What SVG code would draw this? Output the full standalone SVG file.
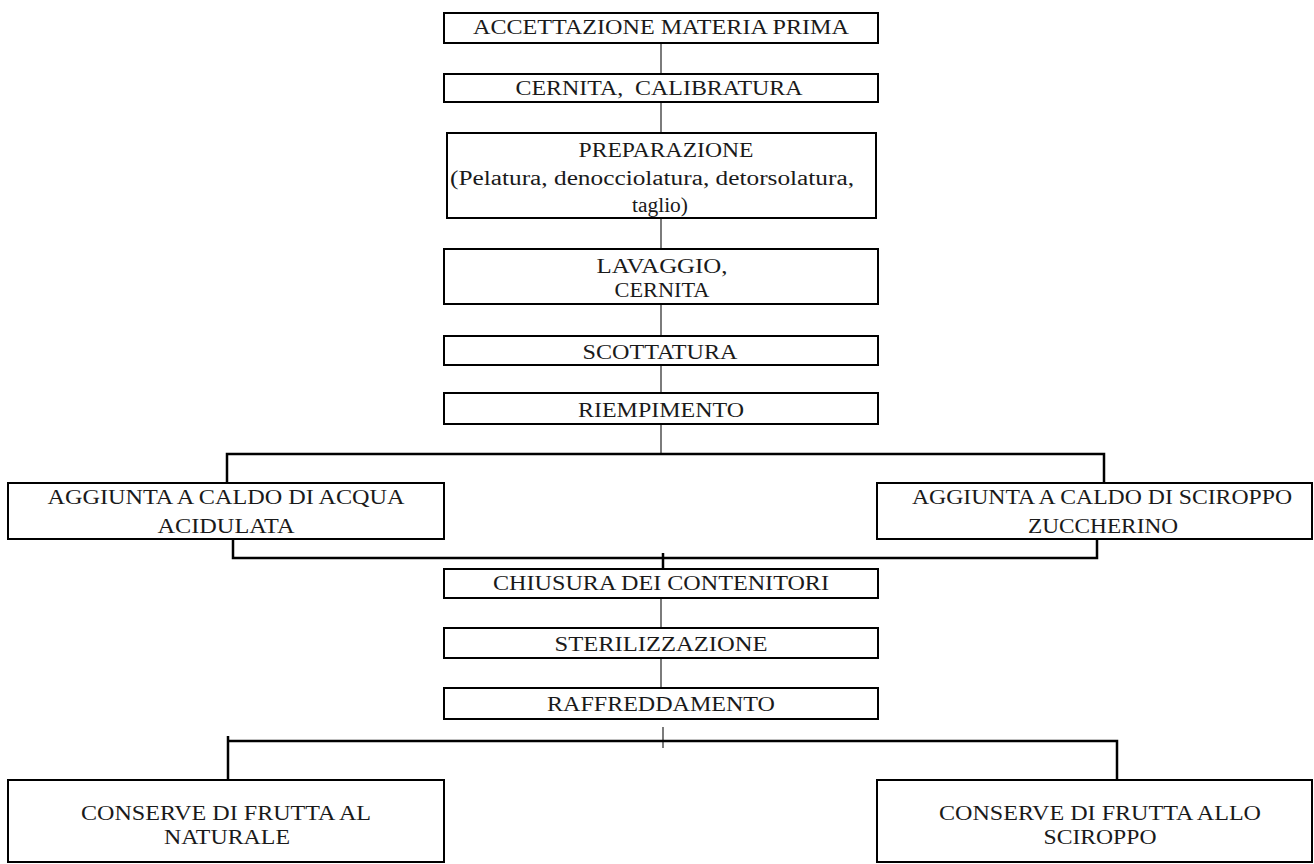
<svg xmlns="http://www.w3.org/2000/svg" width="1314" height="864" viewBox="0 0 1314 864">
<style>
.box{fill:#fff;stroke:#000;stroke-width:2}
.t{font-family:"Liberation Serif","Times New Roman",serif;font-size:20px;fill:#1a1a1a;text-anchor:middle}
.thin{stroke:#444;stroke-width:1.4;fill:none}
.thick{stroke:#000;stroke-width:2.5;fill:none}
</style>
<rect width="1314" height="864" fill="#fff"/>
<g id="connectors">
<line class="thin" x1="661" y1="43" x2="661" y2="74"/>
<line class="thin" x1="661" y1="102" x2="661" y2="133"/>
<line class="thin" x1="661" y1="218" x2="661" y2="249"/>
<line class="thin" x1="661" y1="304" x2="661" y2="336"/>
<line class="thin" x1="661" y1="365" x2="661" y2="393"/>
<line class="thin" x1="661" y1="424" x2="661" y2="454"/>
<polyline class="thick" points="227,489 227,454 1104,454 1104,483"/>
<polyline class="thick" points="233,539 233,558 1097,558 1097,539"/>
<line class="thick" x1="663" y1="553" x2="663" y2="570"/>
<line class="thin" x1="661" y1="598" x2="661" y2="628"/>
<line class="thin" x1="661" y1="658" x2="661" y2="688"/>
<line class="thin" x1="663" y1="727" x2="663" y2="748"/>
<polyline class="thick" points="228,780 228,736 228,741 1117,741 1117,780"/>
</g>
<g id="n1"><rect class="box" x="444" y="13" width="434" height="30"/><text class="t" x="661" y="34" textLength="376" lengthAdjust="spacingAndGlyphs">ACCETTAZIONE MATERIA PRIMA</text></g>
<g id="n2"><rect class="box" x="444" y="74" width="434" height="28"/><text class="t" x="659" y="95" textLength="287" lengthAdjust="spacingAndGlyphs" xml:space="preserve">CERNITA,  CALIBRATURA</text></g>
<g id="n3"><rect class="box" x="447" y="133" width="429" height="85"/>
<text class="t" x="666" y="157" textLength="175" lengthAdjust="spacingAndGlyphs">PREPARAZIONE</text>
<text class="t" x="652" y="185" textLength="404" lengthAdjust="spacingAndGlyphs">(Pelatura, denocciolatura, detorsolatura,</text>
<text class="t" x="660" y="212" textLength="56" lengthAdjust="spacingAndGlyphs">taglio)</text></g>
<g id="n4"><rect class="box" x="444" y="249" width="434" height="55"/>
<text class="t" x="662" y="273" textLength="131" lengthAdjust="spacingAndGlyphs">LAVAGGIO,</text>
<text class="t" x="662" y="297" textLength="95" lengthAdjust="spacingAndGlyphs">CERNITA</text></g>
<g id="n5"><rect class="box" x="444" y="336" width="434" height="29"/><text class="t" x="660" y="359" textLength="155" lengthAdjust="spacingAndGlyphs">SCOTTATURA</text></g>
<g id="n6"><rect class="box" x="444" y="393" width="434" height="31"/><text class="t" x="661" y="417" textLength="166" lengthAdjust="spacingAndGlyphs">RIEMPIMENTO</text></g>
<g id="n7"><rect class="box" x="8" y="483" width="436" height="56"/>
<text class="t" x="226" y="504" textLength="357" lengthAdjust="spacingAndGlyphs">AGGIUNTA A CALDO DI ACQUA</text>
<text class="t" x="226" y="533" textLength="137" lengthAdjust="spacingAndGlyphs">ACIDULATA</text></g>
<g id="n8"><rect class="box" x="877" y="483" width="435" height="56"/>
<text class="t" x="1102" y="504" textLength="380" lengthAdjust="spacingAndGlyphs">AGGIUNTA A CALDO DI SCIROPPO</text>
<text class="t" x="1103" y="533" textLength="150" lengthAdjust="spacingAndGlyphs">ZUCCHERINO</text></g>
<g id="n9"><rect class="box" x="444" y="569" width="434" height="29"/><text class="t" x="661" y="590" textLength="336" lengthAdjust="spacingAndGlyphs">CHIUSURA DEI CONTENITORI</text></g>
<g id="n10"><rect class="box" x="444" y="628" width="434" height="30"/><text class="t" x="661" y="651" textLength="213" lengthAdjust="spacingAndGlyphs">STERILIZZAZIONE</text></g>
<g id="n11"><rect class="box" x="444" y="688" width="434" height="31"/><text class="t" x="661" y="711" textLength="228" lengthAdjust="spacingAndGlyphs">RAFFREDDAMENTO</text></g>
<g id="n12"><rect class="box" x="8" y="780" width="436" height="82"/>
<text class="t" x="226" y="820" textLength="290" lengthAdjust="spacingAndGlyphs">CONSERVE DI FRUTTA AL</text>
<text class="t" x="227" y="844" textLength="126" lengthAdjust="spacingAndGlyphs">NATURALE</text></g>
<g id="n13"><rect class="box" x="877" y="780" width="435" height="82"/>
<text class="t" x="1100" y="820" textLength="322" lengthAdjust="spacingAndGlyphs">CONSERVE DI FRUTTA ALLO</text>
<text class="t" x="1100" y="844" textLength="113" lengthAdjust="spacingAndGlyphs">SCIROPPO</text></g>
</svg>
